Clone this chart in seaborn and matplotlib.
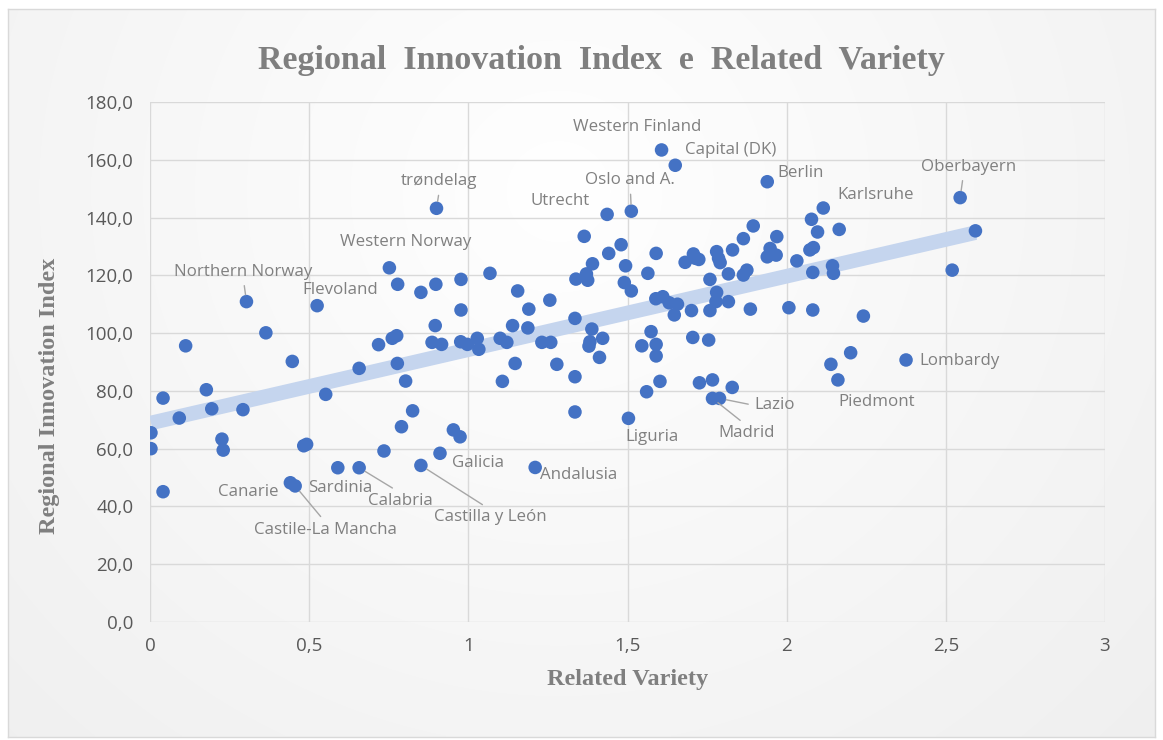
import numpy as np
import pandas as pd
import matplotlib
matplotlib.use("Agg")
import matplotlib.pyplot as plt
import seaborn as sns

# ---------------- data ----------------
related_variety = [
    0.003, 0.003, 0.041, 0.041, 0.092, 0.112, 0.177, 0.194, 0.226, 0.230,
    0.292, 0.303, 0.364, 0.441, 0.447, 0.456, 0.483, 0.492, 0.525, 0.552,
    0.590, 0.657, 0.657, 0.718, 0.735, 0.752, 0.761, 0.775, 0.777, 0.778,
    0.790, 0.803, 0.825, 0.851, 0.851, 0.886, 0.896, 0.898, 0.900, 0.911,
    0.916, 0.953, 0.974, 0.976, 0.977, 0.977, 0.997, 1.028, 1.033, 1.068,
    1.100, 1.107, 1.121, 1.139, 1.147, 1.155, 1.187, 1.190, 1.210, 1.231,
    1.256, 1.259, 1.278, 1.335, 1.335, 1.335, 1.338, 1.364, 1.371, 1.375,
    1.379, 1.382, 1.388, 1.390, 1.412, 1.422, 1.436, 1.441, 1.480, 1.490,
    1.494, 1.503, 1.512, 1.512, 1.545, 1.560, 1.564, 1.574, 1.589, 1.590,
    1.590, 1.590, 1.602, 1.607, 1.611, 1.631, 1.647, 1.650, 1.657, 1.681,
    1.701, 1.705, 1.707, 1.713, 1.724, 1.726, 1.755, 1.759, 1.759, 1.767,
    1.767, 1.778, 1.780, 1.780, 1.786, 1.789, 1.791, 1.817, 1.817, 1.829,
    1.830, 1.864, 1.864, 1.875, 1.886, 1.895, 1.939, 1.939, 1.948, 1.967,
    1.969, 2.007, 2.032, 2.073, 2.078, 2.082, 2.082, 2.084, 2.097, 2.115,
    2.139, 2.144, 2.147, 2.161, 2.165, 2.201, 2.241, 2.375, 2.520, 2.545,
    2.593,
]
innovation_index = [
    65.5, 60.0, 77.5, 45.1, 70.6, 95.6, 80.4, 73.8, 63.3, 59.5,
    73.5, 110.9, 100.1, 48.2, 90.2, 47.1, 61.0, 61.5, 109.5, 78.8,
    53.4, 53.4, 87.8, 96.0, 59.2, 122.6, 98.2, 99.1, 89.5, 116.9,
    67.6, 83.4, 73.1, 114.1, 54.2, 96.8, 102.6, 116.9, 143.2, 58.4,
    96.1, 66.5, 64.1, 97.0, 108.0, 118.6, 96.1, 98.2, 94.4, 120.7,
    98.2, 83.3, 96.8, 102.6, 89.5, 114.6, 101.8, 108.3, 53.5, 96.8,
    111.4, 96.8, 89.2, 105.1, 84.9, 72.7, 118.7, 133.5, 120.5, 118.3,
    95.5, 97.0, 101.4, 124.0, 91.6, 98.2, 141.1, 127.6, 130.6, 117.5,
    123.3, 70.5, 142.2, 114.6, 95.6, 79.7, 120.7, 100.5, 111.9, 127.6,
    96.1, 92.1, 83.3, 163.4, 112.6, 110.5, 106.3, 158.1, 110.0, 124.5,
    107.8, 98.5, 127.4, 125.9, 125.5, 82.8, 97.6, 107.8, 118.6, 83.8,
    77.4, 110.9, 114.1, 128.2, 125.9, 77.4, 124.4, 110.9, 120.5, 81.2,
    128.8, 132.7, 120.1, 121.8, 108.3, 137.1, 152.4, 126.4, 129.3, 127.0,
    133.4, 108.8, 125.0, 128.8, 139.4, 121.0, 108.0, 129.6, 135.0, 143.3,
    89.2, 123.3, 120.7, 83.8, 135.9, 93.2, 105.9, 90.7, 121.8, 146.9,
    135.4,
]
region_labels = [""] * len(related_variety)
named_regions = {
    11: "Northern Norway", 13: "Canarie", 15: "Castile-La Mancha",
    18: "Flevoland", 20: "Sardinia", 21: "Calabria", 25: "Western Norway",
    34: "Castilla y León", 38: "trøndelag", 39: "Galicia", 58: "Andalusia",
    76: "Utrecht", 81: "Liguria", 82: "Oslo and A.", 93: "Western Finland",
    97: "Capital (DK)", 110: "Madrid", 115: "Lazio", 126: "Berlin",
    139: "Karlsruhe", 143: "Piedmont", 147: "Lombardy", 149: "Oberbayern",
}
for i, name in named_regions.items():
    region_labels[i] = name

x_ticks = [0, 0.5, 1, 1.5, 2, 2.5, 3]
x_tick_labels = ["0", "0,5", "1", "1,5", "2", "2,5", "3"]
y_ticks = [0, 20, 40, 60, 80, 100, 120, 140, 160, 180]
y_tick_labels = ["0,0", "20,0", "40,0", "60,0", "80,0", "100,0", "120,0",
                 "140,0", "160,0", "180,0"]

title = "Regional  Innovation  Index  e  Related  Variety"
x_title = "Related Variety"
y_title = "Regional Innovation Index"

df = pd.DataFrame({"rv": related_variety, "rii": innovation_index,
                   "label": region_labels})

# ---------------- label placement (style) ----------------
# (dx, dy) in pixels of label centre relative to point; relpos for leader
label_style = {
    "Western Finland": ((-24, 23), None),
    "Capital (DK)": ((55, 15), None),
    "Berlin": ((33, 9), None),
    "Oslo and A.": ((-1, 31), (0.5, 0.0)),
    "Utrecht": ((-47, 13), None),
    "trøndelag": ((3, 27), (0.5, 0.0)),
    "Western Norway": ((16, 26), None),
    "Northern Norway": ((-3, 30), (0.5, 0.0)),
    "Flevoland": ((23, 16), None),
    "Oberbayern": ((8, 31), (0.45, 0.0)),
    "Karlsruhe": ((52, 13), None),
    "Lombardy": ((54, -1), None),
    "Piedmont": ((39, -22), None),
    "Lazio": ((55, -7), (0.0, 0.5)),
    "Madrid": ((34, -35), (0.5, 1.0)),
    "Liguria": ((24, -19), None),
    "Andalusia": ((43, -8), None),
    "Galicia": ((38, -10), None),
    "Castilla y León": ((69, -52), (0.5, 1.0)),
    "Calabria": ((41, -33), (0.5, 1.0)),
    "Sardinia": ((2, -20), None),
    "Canarie": ((-42, -9), None),
    "Castile-La Mancha": ((30, -44), (0.5, 1.0)),
}

# ---------------- figure ----------------
sns.set_theme(style="whitegrid")
plt.rcParams["font.family"] = ["Open Sans", "DejaVu Sans"]

W, H = 1163, 740
fig = plt.figure(figsize=(W / 100, H / 100), dpi=100)
fig.patch.set_facecolor("white")

# background panel with soft radial gradient
bg = fig.add_axes([8 / W, 1 - 737 / H, (1155 - 8) / W, (737 - 9) / H], zorder=0)
gx, gy = np.meshgrid(np.linspace(0, 1, 400), np.linspace(0, 1, 260))
r = np.sqrt(((gx - 0.48) / 0.62) ** 2 + ((gy - 0.25) / 0.95) ** 2)
val = 1.0 - 0.075 * np.clip(r, 0, 1.4) / 1.4
bg.imshow(np.dstack([val, val, val]), aspect="auto", extent=[0, 1, 0, 1],
          origin="upper", interpolation="bilinear")
bg.set_xticks([]); bg.set_yticks([])
for s in bg.spines.values():
    s.set_color("#d9d9d9"); s.set_linewidth(1.0)
bg.grid(False)

ax = fig.add_axes([150 / W, 1 - 622 / H, (1105 - 150) / W, (622 - 102) / H],
                  zorder=1)
ax.set_facecolor("none")

sns.regplot(data=df, x="rv", y="rii", ax=ax, scatter=False, ci=None,
            line_kws=dict(color="#C5D5EE", linewidth=10.5, solid_capstyle="butt",
                          zorder=2))
sns.scatterplot(data=df, x="rv", y="rii", ax=ax, color="#4472C4", s=95,
                edgecolor="none", linewidth=0, zorder=3)

ax.set_xlim(0, 3)
ax.set_ylim(0, 180)
ax.set_xticks(x_ticks)
ax.set_xticklabels(x_tick_labels)
ax.set_yticks(y_ticks)
ax.set_yticklabels(y_tick_labels)
ax.grid(True, color="#d9d9d9", linewidth=1.0)
for s in ax.spines.values():
    s.set_visible(False)
ax.tick_params(axis="both", colors="#595959", labelsize=13.5, length=0)
ax.tick_params(axis="x", pad=11)
ax.tick_params(axis="y", pad=12)

ax.set_xlabel(x_title, fontsize=17.5, fontweight="bold", color="#7f7f7f",
              family="Liberation Serif", labelpad=10)
ax.set_ylabel(y_title, fontsize=17.5, fontweight="bold", color="#7f7f7f",
              family="Liberation Serif")
ax.yaxis.set_label_coords(-0.094, 0.435)
fig.text(601 / W, 1 - 60 / H, title, fontsize=24.5, fontweight="bold",
         color="#7f7f7f", family="Liberation Serif", ha="center", va="center")

for _, row in df.iterrows():
    if not row["label"]:
        continue
    (dx, dy), rel = label_style[row["label"]]
    kw = {}
    if rel is not None:
        kw["arrowprops"] = dict(arrowstyle="-", color="#a6a6a6", lw=1.0,
                                shrinkA=2, shrinkB=5, relpos=rel)
    ax.annotate(row["label"], (row["rv"], row["rii"]), xytext=(dx, dy),
                textcoords="offset pixels", ha="center", va="center",
                fontsize=12.2, color="#808080", zorder=4, **kw)

fig.savefig("out.png", dpi=100)
